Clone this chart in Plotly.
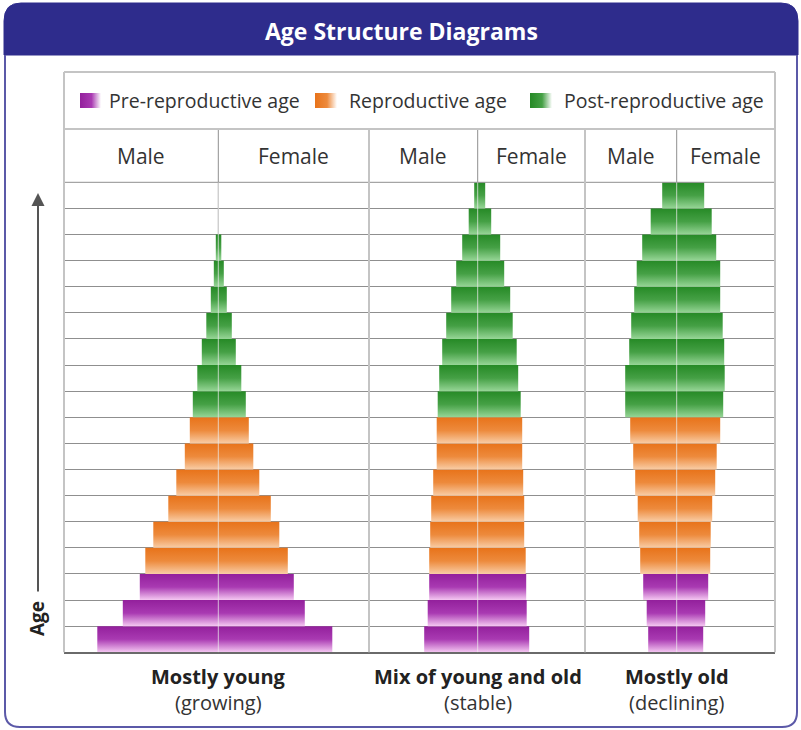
import plotly.graph_objects as go

# ---------------- data ----------------
age_groups = ["Pre-reproductive age", "Reproductive age", "Post-reproductive age"]
# group index of each 5-year age class, bottom (youngest) to top (oldest)
row_group = [0, 0, 0, 1, 1, 1, 1, 1, 1, 2, 2, 2, 2, 2, 2, 2, 2, 2]

diagram_titles = ["Mostly young", "Mix of young and old", "Mostly old"]
diagram_notes = ["(growing)", "(stable)", "(declining)"]

# relative population of each age class (bottom -> top)
young_male = [121, 95.5, 78.5, 73, 65, 50, 42, 33.5, 28.5, 25.5, 21, 16.5, 12, 7.5, 4.5, 2.5, 0, 0]
young_female = [114, 86.5, 75.5, 69.5, 61, 52.5, 41, 35, 30.5, 27.5, 23, 17.5, 13.5, 8.5, 5.5, 3, 0, 0]
stable_male = [53.5, 50, 48.5, 48.5, 47.5, 46.5, 44.5, 41, 41, 40, 38.5, 35.5, 31.5, 26.5, 21.5, 15.5, 9, 3.5]
stable_female = [51.5, 49, 48.5, 48, 46.5, 46.5, 45.5, 44.5, 44.5, 43, 40.5, 39, 35, 32.5, 26.5, 22.5, 13.5, 7.5]
old_male = [28.5, 30, 33.5, 36.5, 37.5, 39, 41.5, 43.5, 46.5, 51.5, 51.5, 47.5, 45.5, 42.5, 40, 34.5, 26, 14.5]
old_female = [26.5, 28.5, 31.5, 33.5, 34, 35.5, 38.5, 40, 43.5, 46.5, 48, 47.5, 46, 43.5, 43.5, 39.5, 35, 27.5]

sex_labels = ["Male", "Female"]

# ---------------- styling / layout ----------------
W, H = 801, 730
FONT = "Open Sans"
grad_dark = ["#93209c", "#e8731a", "#268a26"]
grad_mid = ["#a93ab2", "#ed8a3c", "#45a045"]
grad_light = ["#f5c8f2", "#f9cda6", "#97d697"]

males = [young_male, stable_male, old_male]
females = [young_female, stable_female, old_female]

# panel pixel geometry: left, right, centre
panels = [(64, 369, 218.3), (369, 585, 477.7), (585, 775, 676.7)]
ROW_TOP, ROW_BOT = 182.3, 652.3
n_rows = len(row_group)


def px(x):
    return x / W


def py(y):
    return 1 - y / H


fig = go.Figure()

axis_names = ["", "2", "3"]
for p, (left, right, ctr) in enumerate(panels):
    xa = "x" + axis_names[p]
    for r in range(n_rows):
        L, R = males[p][r], females[p][r]
        if L <= 0 and R <= 0:
            continue
        g = row_group[r]
        fig.add_trace(go.Scatter(
            x=[-L, R, R, -L, -L], y=[r, r, r + 1, r + 1, r],
            xaxis=xa, yaxis="y", mode="lines", line=dict(width=0),
            fill="toself",
            fillgradient=dict(type="vertical", start=r, stop=r + 1,
                              colorscale=[[0, grad_light[g]], [0.5, grad_mid[g]], [1, grad_dark[g]]]),
            showlegend=False, hoverinfo="skip"))

# legend swatches on a full-figure overlay axis (pixel units)
legend_swatch_x = [(80, 101), (315, 337), (530, 552)]
legend_text_x = [107, 347, 562]
for g, name in enumerate(age_groups):
    x0, x1 = legend_swatch_x[g]
    fig.add_trace(go.Scatter(
        x=[x0, x1, x1, x0, x0], y=[93, 93, 108, 108, 93],
        xaxis="x4", yaxis="y4", mode="lines", line=dict(width=0), fill="toself",
        fillgradient=dict(type="horizontal", start=x0, stop=x1,
                          colorscale=[[0, grad_dark[g]], [0.55, grad_mid[g]], [1, "#ffffff"]]),
        showlegend=False, hoverinfo="skip"))

layout = dict(
    width=W, height=H, margin=dict(l=0, r=0, t=0, b=0),
    paper_bgcolor="white", plot_bgcolor="rgba(0,0,0,0)",
    showlegend=False,
    yaxis=dict(domain=[py(ROW_BOT), py(ROW_TOP)], range=[0, n_rows], tick0=0, dtick=1,
               showgrid=True, gridcolor="#8f8f8f", gridwidth=1, showticklabels=False,
               ticks="", zeroline=False, fixedrange=True),
    xaxis4=dict(domain=[0, 1], range=[0, W], visible=False, anchor="y4", fixedrange=True),
    yaxis4=dict(domain=[0, 1], range=[H, 0], visible=False, anchor="x4", fixedrange=True),
)
for p, (left, right, ctr) in enumerate(panels):
    key = "xaxis" + axis_names[p]
    layout[key] = dict(domain=[px(left), px(right)], range=[-(ctr - left), right - ctr],
                       anchor="y", showgrid=False, zeroline=False, showticklabels=False,
                       ticks="", showline=True, linecolor="#6a6a6a", linewidth=2,
                       fixedrange=True)
fig.update_layout(**layout)

shapes = []
# title bar (rounded top corners)
tb = ("M {a},{b} L {a},{c} Q {a},{d} {e},{d} L {f},{d} Q {g},{d} {g},{c} L {g},{b} Z").format(
    a=px(4), b=py(55), c=py(21), d=py(3), e=px(21), f=px(781), g=px(798))
shapes.append(dict(type="path", xref="paper", yref="paper", path=tb,
                   fillcolor="#2e2c8c", line=dict(color="#2e2c8c", width=1), layer="above"))
# outer frame
fr = ("M {a},{b} L {a},{c} Q {a},{d} {e},{d} L {f},{d} Q {g},{d} {g},{c} L {g},{b}").format(
    a=px(5), b=py(55), c=py(712), d=py(727), e=px(20), f=px(782), g=px(797))
shapes.append(dict(type="path", xref="paper", yref="paper", path=fr,
                   line=dict(color="#5b59a8", width=2), layer="above"))

light = "#c4c4c4"
# box outline around legend + header
shapes.append(dict(type="line", xref="paper", yref="paper", x0=px(64), x1=px(775), y0=py(72), y1=py(72),
                   line=dict(color=light, width=2)))
shapes.append(dict(type="line", xref="paper", yref="paper", x0=px(64), x1=px(775), y0=py(129), y1=py(129),
                   line=dict(color=light, width=2)))
shapes.append(dict(type="line", xref="paper", yref="paper", x0=px(64), x1=px(775), y0=py(ROW_TOP), y1=py(ROW_TOP),
                   line=dict(color="#8f8f8f", width=1)))
for xv, ytop in [(64, 72), (775, 72), (369, 129), (585, 129)]:
    shapes.append(dict(type="line", xref="paper", yref="paper", x0=px(xv), x1=px(xv),
                       y0=py(ytop), y1=py(ROW_BOT), line=dict(color=light, width=2)))
# centre lines (male | female)
for p, (left, right, ctr) in enumerate(panels):
    xr = "x" + axis_names[p]
    shapes.append(dict(type="line", xref=xr, yref="paper", x0=0, x1=0, y0=py(129), y1=py(ROW_BOT),
                       line=dict(color="#8f8f8f", width=1), layer="below"))
    shapes.append(dict(type="line", xref=xr, yref="y", x0=0, x1=0, y0=0, y1=n_rows,
                       line=dict(color="rgba(235,235,235,0.75)", width=1), layer="above"))


def label(text, x, y, size, color="#333333", anchor="center", angle=0):
    return dict(text=text, x=px(x), y=py(y), xref="paper", yref="paper", xanchor=anchor,
                yanchor="middle", showarrow=False, textangle=angle,
                font=dict(family=FONT, size=size, color=color))


annotations = []
annotations.append(label("<b>Age Structure Diagrams</b>", 401, 31, 23, "white"))
for g, name in enumerate(age_groups):
    annotations.append(label(name, legend_text_x[g], 100, 19.5, anchor="left"))
for p, (left, right, ctr) in enumerate(panels):
    for s, xc in enumerate([(left + ctr) / 2, (ctr + right) / 2]):
        annotations.append(label(sex_labels[s], xc, 156, 21))
    annotations.append(label("<b>" + diagram_titles[p] + "</b>", ctr, 676, 20, "#222222"))
    annotations.append(label(diagram_notes[p], ctr, 702, 20))
# Age arrow
annotations.append(dict(text="", x=px(38), y=py(193), xref="paper", yref="paper", ax=0, ay=400,
                        showarrow=True, arrowhead=2, arrowsize=1.3, arrowwidth=2, arrowcolor="#555555"))
annotations.append(label("<b>Age</b>", 37, 619, 19, "#222222", angle=-90))

fig.update_layout(shapes=shapes, annotations=annotations)
fig.write_html("out.html", config={"displayModeBar": False},
               post_script="document.body.style.margin='0';document.body.style.overflow='hidden';")
